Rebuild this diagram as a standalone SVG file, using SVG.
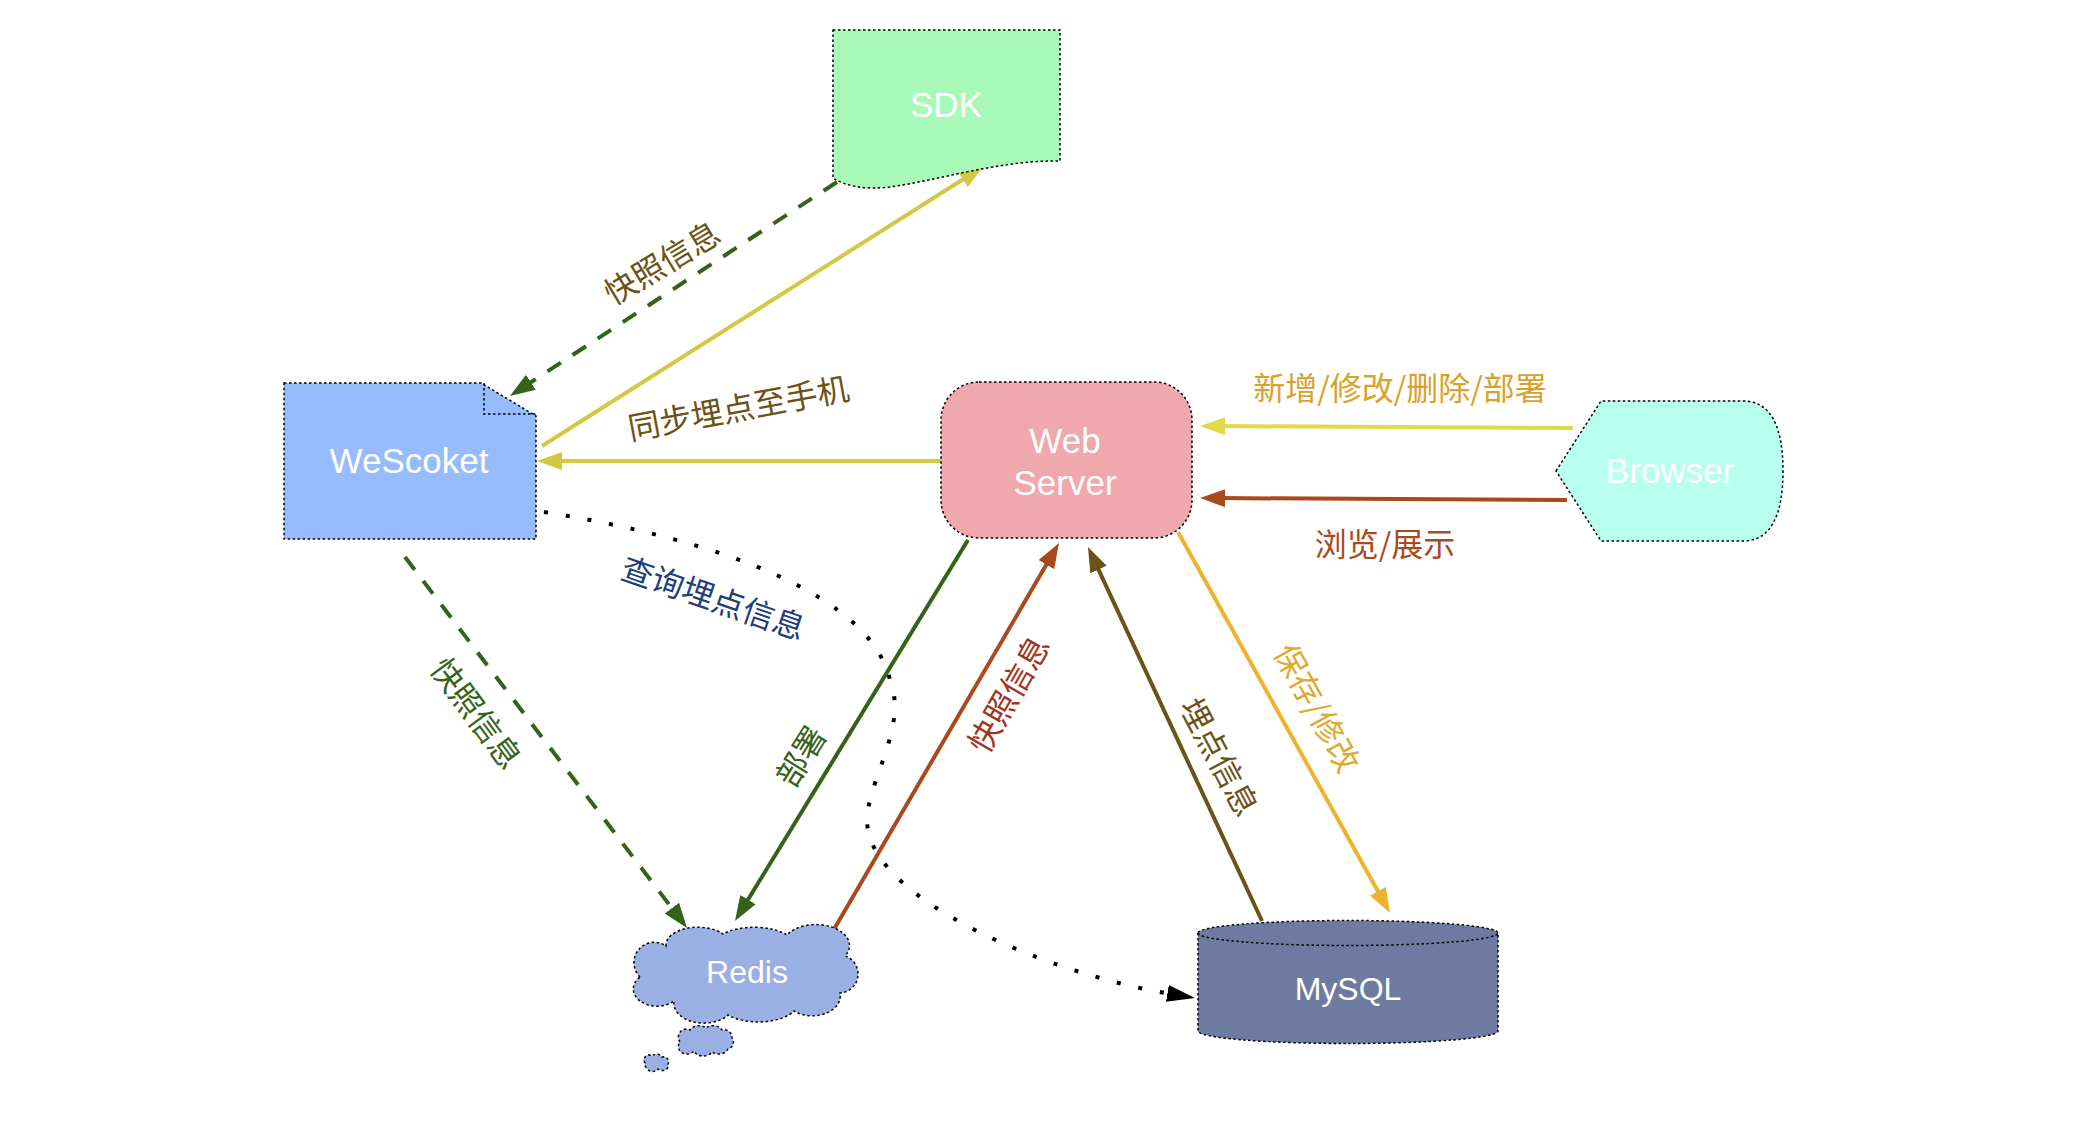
<svg xmlns="http://www.w3.org/2000/svg" width="2090" height="1146" viewBox="0 0 2090 1146">
<style>
.node{stroke:#000;stroke-width:1.5;stroke-dasharray:2.5 2.5}
.nl{font-family:"Liberation Sans",Arial,sans-serif;font-size:35px;fill:#fff;text-anchor:middle}
.lbl{font-family:"Noto Sans CJK SC","Noto Sans",sans-serif;font-size:32px;text-anchor:middle;dominant-baseline:central}
.c{fill:none;stroke-width:4}
</style>
<defs>
<marker id="aGreen" markerUnits="userSpaceOnUse" markerWidth="30" markerHeight="20" refX="5" refY="9" orient="auto"><path d="M0,0 L25,9 L0,18 Z" fill="#356218"/></marker>
<marker id="aYellow" markerUnits="userSpaceOnUse" markerWidth="30" markerHeight="20" refX="5" refY="9" orient="auto"><path d="M0,0 L25,9 L0,18 Z" fill="#D3C843"/></marker>
<marker id="aYellow2" markerUnits="userSpaceOnUse" markerWidth="30" markerHeight="20" refX="5" refY="9" orient="auto"><path d="M0,0 L25,9 L0,18 Z" fill="#E0DA4A"/></marker>
<marker id="aRed" markerUnits="userSpaceOnUse" markerWidth="30" markerHeight="20" refX="5" refY="9" orient="auto"><path d="M0,0 L25,9 L0,18 Z" fill="#A94A1E"/></marker>
<marker id="aOlive" markerUnits="userSpaceOnUse" markerWidth="30" markerHeight="20" refX="5" refY="9" orient="auto"><path d="M0,0 L25,9 L0,18 Z" fill="#6A5218"/></marker>
<marker id="aOrange" markerUnits="userSpaceOnUse" markerWidth="30" markerHeight="20" refX="5" refY="9" orient="auto"><path d="M0,0 L25,9 L0,18 Z" fill="#EDB32F"/></marker>
<marker id="aBlack" markerUnits="userSpaceOnUse" markerWidth="32" markerHeight="20" refX="5" refY="8.5" orient="auto"><path d="M0,0 L28,8.5 L0,17 Z" fill="#000"/></marker>
</defs>
<rect width="2090" height="1146" fill="#fff"/>

<g id="connectors">
<line class="c" x1="837" y1="182" x2="526.7" y2="385" stroke="#356218" stroke-dasharray="16 14" marker-end="url(#aGreen)"/>
<line class="c" x1="542" y1="446" x2="967.1" y2="176.7" stroke="#D3C843" marker-end="url(#aYellow)"/>
<line class="c" x1="941" y1="461" x2="557" y2="461" stroke="#D3C843" marker-end="url(#aYellow)"/>
<line class="c" x1="1573" y1="428" x2="1220" y2="426.1" stroke="#E0DA4A" marker-end="url(#aYellow2)"/>
<line class="c" x1="1567" y1="500" x2="1220" y2="498.1" stroke="#A94A1E" marker-end="url(#aRed)"/>
<line class="c" x1="968" y1="540" x2="745.4" y2="903.9" stroke="#356218" marker-end="url(#aGreen)"/>
<line class="c" x1="405" y1="557" x2="674.9" y2="912.1" stroke="#356218" stroke-dasharray="16 14" marker-end="url(#aGreen)"/>
<line class="c" x1="833" y1="931" x2="1048.9" y2="560.3" stroke="#A94A1E" marker-end="url(#aRed)"/>
<line class="c" x1="1262" y1="921" x2="1096.4" y2="565.1" stroke="#6A5218" marker-end="url(#aOlive)"/>
<line class="c" x1="1178" y1="532" x2="1380.3" y2="895.5" stroke="#EDB32F" marker-end="url(#aOrange)"/>
<path d="M544,512 C720,540 870,595 890,680 C910,730 860,790 868,830 C880,900 1040,972 1172.3,994.3" fill="none" stroke="#000" stroke-width="4" stroke-dasharray="4 18" marker-end="url(#aBlack)"/>

<text class="lbl" fill="#6B5318" transform="translate(661,261) rotate(-31)">快照信息</text>
<text class="lbl" fill="#6B5318" transform="translate(738,406) rotate(-10.5)">同步埋点至手机</text>
<text class="lbl" fill="#D9A12A" transform="translate(1400,386)">新增/修改/删除/部署</text>
<text class="lbl" fill="#A84A20" transform="translate(1385,542)">浏览/展示</text>
<text class="lbl" fill="#1D3F7A" transform="translate(714,596) rotate(19)">查询埋点信息</text>
<text class="lbl" fill="#35631A" transform="translate(478,712) rotate(53.5)">快照信息</text>
<text class="lbl" fill="#35631A" transform="translate(799,755) rotate(-58)">部署</text>
<text class="lbl" fill="#A0351E" transform="translate(1007,693) rotate(-60)">快照信息</text>
<text class="lbl" fill="#6B5318" transform="translate(1221,756) rotate(62)">埋点信息</text>
<text class="lbl" fill="#E0A82C" transform="translate(1319,707) rotate(61)">保存/修改</text>
</g>

<g id="sdk">
<path class="node" d="M833,30 H1060 V161 C1000,160 940,180 890,187 C865,190 845,186 833,178 Z" fill="#A9FAB8"/>
<text class="nl" x="946" y="117">SDK</text>
</g>

<g id="wescoket">
<path class="node" d="M284,383 H481 L536,416 V539 H284 Z" fill="#97BCFD"/>
<path class="node" d="M484,383 V414 H536" fill="none"/>
<text class="nl" x="409" y="473">WeScoket</text>
</g>

<g id="webserver">
<rect class="node" x="941" y="382" width="251" height="156" rx="38" ry="38" fill="#EFA8AC"/>
<text class="nl" x="1065" y="453">Web</text>
<text class="nl" x="1065" y="495">Server</text>
</g>

<g id="browser">
<path class="node" d="M1556,471 L1601,401 L1745,401 Q1783,403 1783,471 Q1783,539 1745,541 L1601,541 Z" fill="#B9FFEE"/>
<text class="nl" x="1670" y="483">Browser</text>
</g>

<g id="redis">
<path class="node" d="M640,977 A20.3,20.3 0 0 1 666,946 A32,18 0 0 1 723,934 A40,18 0 0 1 787,935 A32,20 0 0 1 845,956 A19,19 0 0 1 840,993 A28,20 0 0 1 794,1011 A40,20 0 0 1 728,1015 A30,20 0 0 1 674,1001 A22,16 0 0 1 640,977 Z" fill="#9AAFE4"/>
<path class="node" d="M680,1042 A8,8 0 0 1 690,1030 A10,8 0 0 1 706,1028 A10,8 0 0 1 722,1030 A8,8 0 0 1 732,1038 A7,7 0 0 1 728,1049 A10,8 0 0 1 712,1052 A10,8 0 0 1 694,1051 A8,7 0 0 1 680,1042 Z" fill="#9AAFE4"/>
<path class="node" d="M645,1063 A5,5 0 0 1 652,1056 A6,5 0 0 1 662,1057 A5,5 0 0 1 668,1064 A6,5 0 0 1 658,1069 A6,5 0 0 1 647,1068 A4,4 0 0 1 645,1063 Z" fill="#9AAFE4"/>
<text class="nl" style="font-size:32px" x="747" y="983">Redis</text>
</g>

<g id="mysql">
<path class="node" d="M1198,933 V1031 A150,12.5 0 0 0 1498,1031 V933 A150,12.5 0 0 0 1198,933 Z" fill="#6D7BA0"/>
<path class="node" d="M1198,933 A150,12.5 0 0 0 1498,933" fill="none"/>
<text class="nl" style="font-size:32px" x="1348" y="1000">MySQL</text>
</g>
</svg>
